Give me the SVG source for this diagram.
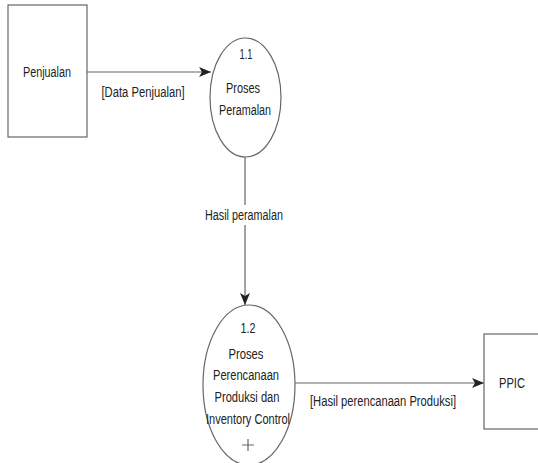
<svg xmlns="http://www.w3.org/2000/svg" width="538" height="463" viewBox="0 0 538 463">
<style>
.box{fill:#fff;stroke:#666;stroke-width:1.2}
.proc{fill:#fff;stroke:#666;stroke-width:1.2}
.t{font-family:"Liberation Sans",Arial,sans-serif;font-size:15.5px;fill:#222;text-anchor:middle}
.c{fill:none;stroke:#666;stroke-width:1.2}
</style>
<defs>
<marker id="ah" viewBox="0 0 12 10" refX="12" refY="5" markerWidth="12" markerHeight="10" markerUnits="userSpaceOnUse" orient="auto">
<path d="M0,0 L12,5 L0,10 L3,5 Z" fill="#222"/>
</marker>
</defs>
<rect width="538" height="463" fill="#fff"/>
<g id="connectors">
<line class="c" x1="87" y1="72" x2="211" y2="72" marker-end="url(#ah)"/>
<text class="t" x="143" y="97" textLength="83" lengthAdjust="spacingAndGlyphs">[Data Penjualan]</text>
<line class="c" x1="245" y1="157" x2="245" y2="305" marker-end="url(#ah)"/>
<rect x="203" y="205" width="84" height="20" fill="#fff"/>
<text class="t" x="244" y="220" textLength="78" lengthAdjust="spacingAndGlyphs">Hasil peramalan</text>
<line class="c" x1="295" y1="383" x2="484" y2="383" marker-end="url(#ah)"/>
<text class="t" x="383" y="406" textLength="146" lengthAdjust="spacingAndGlyphs">[Hasil perencanaan Produksi]</text>
</g>
<g id="penjualan">
<rect class="box" x="8" y="5" width="79" height="132"/>
<text class="t" x="47" y="77" textLength="48" lengthAdjust="spacingAndGlyphs">Penjualan</text>
</g>
<g id="p11">
<ellipse class="proc" cx="245.5" cy="97.5" rx="35.5" ry="59.5"/>
<text class="t" x="246" y="59" textLength="13" lengthAdjust="spacingAndGlyphs">1.1</text>
<text class="t" x="243" y="93" textLength="34" lengthAdjust="spacingAndGlyphs">Proses</text>
<text class="t" x="245" y="115" textLength="52" lengthAdjust="spacingAndGlyphs">Peramalan</text>
</g>
<g id="p12">
<ellipse class="proc" cx="249" cy="385" rx="46" ry="80"/>
<text class="t" x="248" y="333" textLength="15" lengthAdjust="spacingAndGlyphs">1.2</text>
<text class="t" x="246" y="359" textLength="35" lengthAdjust="spacingAndGlyphs">Proses</text>
<text class="t" x="246" y="380" textLength="66" lengthAdjust="spacingAndGlyphs">Perencanaan</text>
<text class="t" x="247" y="402" textLength="65" lengthAdjust="spacingAndGlyphs">Produksi dan</text>
<text class="t" x="248" y="424" textLength="84" lengthAdjust="spacingAndGlyphs">Inventory Control</text>
<path class="c" d="M248,439 V451 M242,445 H254" stroke-width="1"/>
</g>
<g id="ppic">
<rect class="box" x="484" y="334" width="60" height="95"/>
<text class="t" x="512" y="388" textLength="26" lengthAdjust="spacingAndGlyphs">PPIC</text>
</g>
</svg>
